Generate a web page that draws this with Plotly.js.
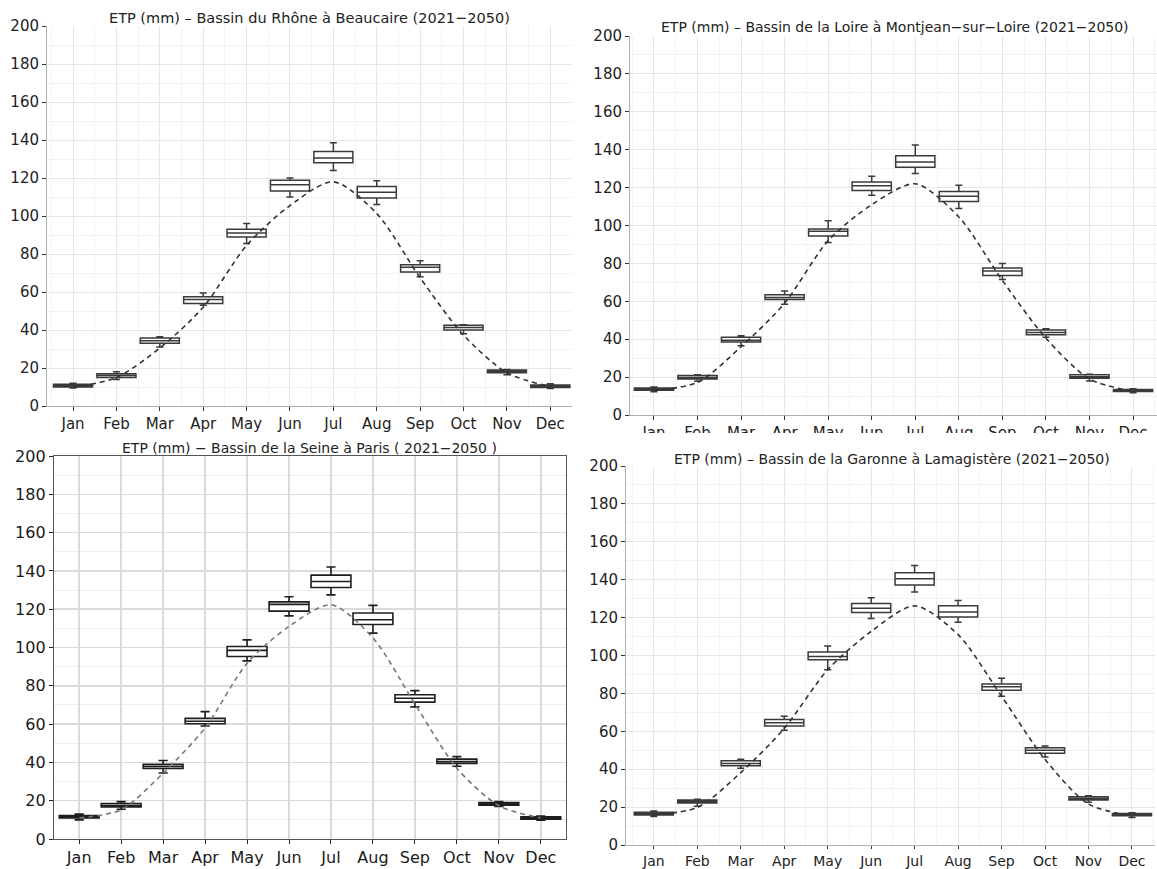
<!DOCTYPE html>
<html>
<head>
<meta charset="utf-8">
<script src="https://cdn.plot.ly/plotly-3.0.1.min.js"></script>
<style>html,body{margin:0;padding:0;background:#fff;}#chart{width:1157px;height:869px;}</style>
</head>
<body>
<div id="chart"></div>
<script>
const months = ["Jan","Feb","Mar","Apr","May","Jun","Jul","Aug","Sep","Oct","Nov","Dec"];

const titleRhone = "ETP (mm) – Bassin du Rhône à Beaucaire (2021−2050)";
const titleLoire = "ETP (mm) – Bassin de la Loire à Montjean−sur−Loire (2021−2050)";
const titleSeine = "ETP (mm) − Bassin de la Seine à Paris ( 2021−2050 )";
const titleGaronne = "ETP (mm) – Bassin de la Garonne à Lamagistère (2021−2050)";

// Rhône à Beaucaire
const rhoneMin = [9.5, 14, 31, 53, 85.5, 110, 124, 106, 68, 38, 16.5, 9.2];
const rhoneQ1  = [10, 15, 33, 54, 89, 113.2, 128, 109.5, 70.5, 40, 17.5, 9.8];
const rhoneMed = [10.7, 16, 34.3, 56, 91, 116.5, 130.5, 112.5, 73, 41.3, 18.2, 10.4];
const rhoneQ3  = [11.5, 17, 35.8, 57.5, 93, 118.8, 134, 115.5, 74.3, 42.5, 19, 11];
const rhoneMax = [12, 18, 36.5, 59.5, 96, 120, 138.5, 118.5, 76.5, 42.8, 19.2, 11.7];
const rhoneRef = [9.8, 15, 30.5, 52, 84.5, 105.5, 118, 101.3, 67.5, 37.3, 17.5, 10.2];

// Loire à Montjean-sur-Loire
const loireMin = [12.3, 17.8, 36.5, 58.5, 91, 116, 127.5, 109, 71.5, 41, 18, 11.8];
const loireQ1  = [13, 19, 38.5, 61, 94.5, 118.5, 130.7, 112.6, 73.6, 42.3, 19.4, 12.4];
const loireMed = [13.6, 19.8, 39.5, 62, 97, 121, 133.5, 115.5, 76, 43.5, 20.2, 13];
const loireQ3  = [14.3, 20.8, 41, 63.5, 98.2, 123, 136.8, 118, 77.6, 44.8, 21.2, 13.5];
const loireMax = [14.8, 21.2, 41.8, 65.5, 102.5, 126, 142.5, 121.3, 80, 45.5, 21.5, 13.8];
const loireRef = [13, 17.2, 36, 59, 92, 111, 122, 104.5, 71, 40.5, 19, 12.5];

// Seine à Paris
const seineMin = [10, 15.5, 34.5, 59, 93, 116.5, 127.5, 107.5, 69, 38, 17, 9.8];
const seineQ1  = [11, 16.7, 36.9, 60.2, 95.3, 119, 131.3, 112, 71.5, 39.5, 17.6, 10.4];
const seineMed = [11.7, 17.5, 38, 61.5, 98.5, 122.5, 134.5, 114.5, 73.5, 40.5, 18.2, 11];
const seineQ3  = [12.3, 18.5, 39, 63, 100.5, 123.8, 137.8, 118, 75.3, 41.7, 19, 11.6];
const seineMax = [13, 19.5, 41, 66.5, 104, 126.5, 142, 122, 77.5, 43, 19.5, 12];
const seineRef = [11, 15.3, 34.4, 58, 91.8, 111, 122.3, 105, 70.5, 37, 17.4, 11];

// Garonne à Lamagistère
const garonneMin = [15, 20.5, 40.5, 60.5, 92.5, 119.5, 133.5, 117.5, 78.5, 46.5, 22.5, 14.5];
const garonneQ1  = [15.8, 22.2, 41.8, 62.8, 97.8, 122.7, 137.2, 120.3, 81.7, 48.4, 23.7, 15.4];
const garonneMed = [16.5, 23, 43, 64.5, 99.5, 125, 140.5, 123, 83.5, 50, 24.5, 16];
const garonneQ3  = [17.3, 23.7, 44.5, 66.2, 101.8, 127.5, 143.7, 126.2, 85, 51.3, 25.4, 16.6];
const garonneMax = [18, 24.2, 45.3, 68, 105, 130.5, 147.5, 129, 88, 52.3, 26, 17];
const garonneRef = [16, 19.8, 38.2, 61.5, 92.5, 112.7, 126.2, 111, 78.5, 45.2, 21.6, 15.4];

const idx = months.map((m, i) => i);

function panelTraces(ax, mn, q1, med, q3, mx, ref, st) {
  return [
    {
      type: "scatter", mode: "lines", x: idx, y: ref,
      xaxis: "x" + ax, yaxis: "y" + ax,
      line: {color: st.lineColor, width: 1.6, dash: "5px,4px", shape: "spline", smoothing: 0.8},
      hoverinfo: "skip"
    },
    {
      type: "box", x: idx, q1: q1, median: med, q3: q3, lowerfence: mn, upperfence: mx,
      xaxis: "x" + ax, yaxis: "y" + ax,
      width: st.boxWidth, whiskerwidth: st.whisker,
      fillcolor: "#ffffff",
      line: {color: st.boxColor, width: st.boxLine},
      boxpoints: false, hoverinfo: "skip"
    }
  ];
}

const ggStyle = {lineColor: "#333333", boxColor: "#3a3a3a", boxLine: 1.5, boxWidth: 0.9, whisker: 0.18};
const seineStyle = {lineColor: "#777777", boxColor: "#1e1e1e", boxLine: 1.6, boxWidth: 0.95, whisker: 0.23};

const data = [].concat(
  panelTraces("", rhoneMin, rhoneQ1, rhoneMed, rhoneQ3, rhoneMax, rhoneRef, ggStyle),
  panelTraces("2", loireMin, loireQ1, loireMed, loireQ3, loireMax, loireRef, ggStyle),
  panelTraces("3", seineMin, seineQ1, seineMed, seineQ3, seineMax, seineRef, seineStyle),
  panelTraces("4", garonneMin, garonneQ1, garonneMed, garonneQ3, garonneMax, garonneRef, ggStyle)
);

const FONT = "DejaVu Sans, Liberation Sans, Arial, sans-serif";

function ggX(domain, range, anchor, fsize, tlen) {
  return {
    domain: domain, range: range, anchor: anchor,
    tickmode: "array", tickvals: idx, ticktext: months,
    showgrid: true, gridcolor: "#e6e6e6", gridwidth: 1,
    minor: {tickmode: "linear", tick0: 0.5, dtick: 1, showgrid: true, gridcolor: "#f3f3f3", gridwidth: 1},
    showline: true, linecolor: "#b0b0b0", linewidth: 1,
    ticks: "outside", ticklen: tlen, tickcolor: "#333", tickwidth: 1,
    tickfont: {family: FONT, size: fsize, color: "#222"},
    zeroline: false, fixedrange: true
  };
}
function ggY(domain, anchor) {
  return {
    domain: domain, range: [0, 200], anchor: anchor,
    tickmode: "linear", tick0: 0, dtick: 20,
    showgrid: true, gridcolor: "#e6e6e6", gridwidth: 1,
    minor: {tickmode: "linear", tick0: 0, dtick: 10, showgrid: true, gridcolor: "#f3f3f3", gridwidth: 1},
    showline: true, linecolor: "#b0b0b0", linewidth: 1,
    ticks: "outside", ticklen: 4, tickcolor: "#333", tickwidth: 1,
    tickfont: {family: FONT, size: 15, color: "#222"},
    zeroline: false, fixedrange: true
  };
}

const x3 = {
  domain: [54/1157, 566/1157], range: [-0.6, 11.6], anchor: "y3",
  tickmode: "array", tickvals: idx, ticktext: months,
  showgrid: true, gridcolor: "#dadada", gridwidth: 1.5,
  showline: true, mirror: true, linecolor: "#555", linewidth: 1.2,
  ticks: "outside", ticklen: 4, tickcolor: "#222",
  tickfont: {family: FONT, size: 16, color: "#1a1a1a"},
  zeroline: false, fixedrange: true
};
const y3 = {
  domain: [1 - 839/869, 1 - 456/869], range: [0, 200], anchor: "x3",
  tickmode: "linear", tick0: 0, dtick: 20,
  showgrid: true, gridcolor: "#dadada", gridwidth: 1.5,
  minor: {tickmode: "linear", tick0: 0, dtick: 10, showgrid: true, gridcolor: "#efefef", gridwidth: 1},
  showline: true, mirror: true, linecolor: "#555", linewidth: 1.2,
  ticks: "outside", ticklen: 4, tickcolor: "#222",
  tickfont: {family: FONT, size: 16, color: "#1a1a1a"},
  zeroline: false, fixedrange: true
};

function titleAnn(text, xc, yc, size) {
  return {
    text: text, xref: "paper", yref: "paper", x: xc / 1157, y: 1 - yc / 869,
    xanchor: "center", yanchor: "middle", showarrow: false,
    font: {family: FONT, size: size, color: "#222"}
  };
}

const layout = {
  width: 1157, height: 869,
  margin: {l: 0, r: 0, t: 0, b: 0},
  paper_bgcolor: "#ffffff", plot_bgcolor: "#ffffff",
  showlegend: false,
  xaxis: ggX([47/1157, 572/1157], [-0.6, 11.5], "y", 15, 4),
  yaxis: ggY([1 - 406/869, 1 - 26/869], "x"),
  xaxis2: ggX([630/1157, 1], [-0.55, 11.55], "y2", 15, 4),
  yaxis2: ggY([1 - 415/869, 1 - 36/869], "x2"),
  xaxis3: x3,
  yaxis3: y3,
  xaxis4: ggX([626/1157, 1155/1157], [-0.64, 11.53], "y4", 14, 3),
  yaxis4: ggY([1 - 845/869, 1 - 466/869], "x4"),
  annotations: [
    titleAnn(titleRhone, 309, 18, 14.5),
    titleAnn(titleLoire, 895, 27, 14),
    titleAnn(titleSeine, 309, 448, 14),
    titleAnn(titleGaronne, 892, 459, 14)
  ],
  shapes: [
    {type: "rect", xref: "paper", yref: "paper", layer: "above",
     x0: 0.505, x1: 1, y0: 1 - 451/869, y1: 1 - 433/869,
     fillcolor: "#ffffff", line: {width: 0}}
  ]
};

Plotly.newPlot("chart", data, layout, {staticPlot: true, displayModeBar: false});
</script>
</body>
</html>
